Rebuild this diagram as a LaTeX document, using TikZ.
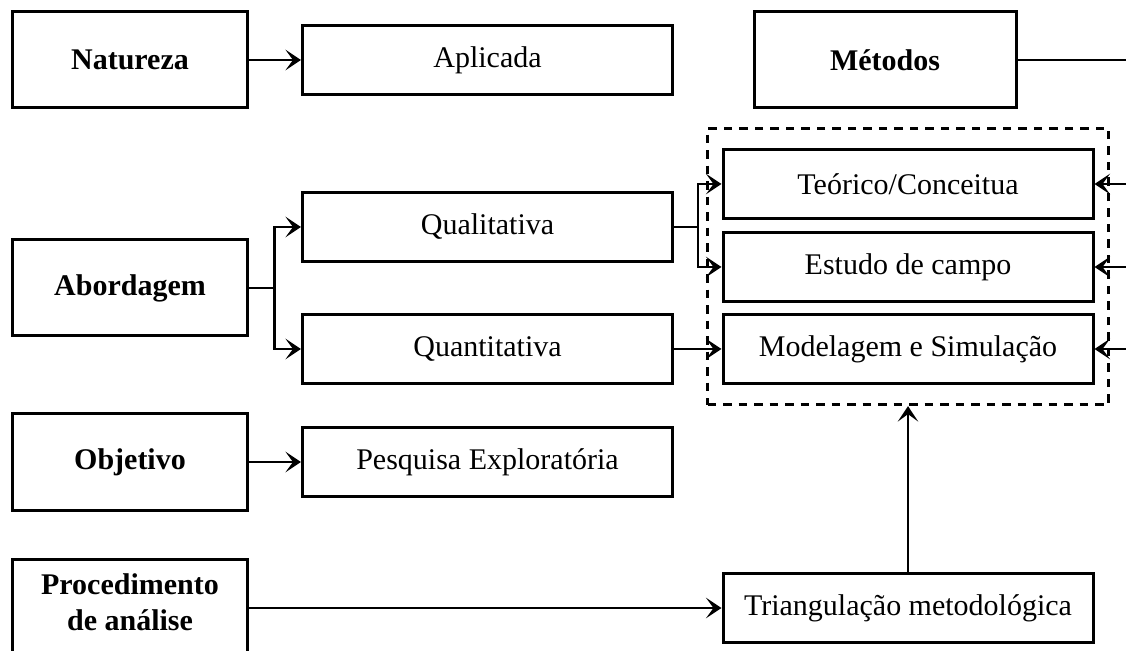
\documentclass[tikz,border=0pt]{standalone}
\usepackage{fontspec}
\setmainfont{Liberation Serif}
\usetikzlibrary{positioning,arrows.meta,fit}

\begin{document}
\begin{tikzpicture}[x=0.4pt,y=-0.4pt,font=\fontsize{12pt}{14.4pt}\selectfont,
every node/.style={draw, line width=1.2pt, align=center, inner sep=0pt},
titulo/.style={minimum width=93.6pt, minimum height=38.4pt, font=\fontsize{12pt}{14.4pt}\selectfont\bfseries},
opcao/.style={minimum width=148pt, minimum height=27.4pt},
seta/.style={line width=1.1pt, -{Stealth[length=6.2pt,width=8.2pt,inset=3pt]}},
linha/.style={line width=1.1pt}]
\clip (0,0) rectangle (1126,651);
\node[titulo] (natureza) at (130,60) {Natureza};
\node[opcao] (aplicada) at (487.5,60) {Aplicada};
\node[titulo, minimum width=104.8pt] (metodos) at (885,60) {Métodos};
\node[titulo] (abordagem) at (130,288) {Abordagem};
\node[opcao] (qualitativa) at (487.5,227) {Qualitativa};
\node[opcao] (quantitativa) at (487.5,349) {Quantitativa};
\node[titulo] (objetivo) at (130,462) {Objetivo};
\node[opcao] (pesquisa) at (487.5,462) {Pesquisa Exploratória};
\node[titulo, text depth=5pt] (procedimento) at (130,608) {Procedimento\\de análise};
\node[opcao] (teorico) at (908,184) {Teórico/Conceitua};
\node[opcao] (estudo) at (908,267) {Estudo de campo};
\node[opcao] (modelagem) at (908,349) {Modelagem e Simulação};
\node[opcao] (triangulacao) at (908,608) {Triangulação metodológica};
\node[dash pattern=on 3.4pt off 2.8pt, line width=1.1pt, fit=(teorico)(modelagem), inner xsep=5.6pt, inner ysep=8pt] (grupo) {};
% saidas pela borda direita
\coordinate (fora0) at (1140,60);
\coordinate (fora1) at (1140,184);
\coordinate (fora2) at (1140,267);
\coordinate (fora3) at (1140,349);
\draw[seta] (natureza) -- (aplicada);
\draw[seta] (objetivo) -- (pesquisa);
\draw[seta] (procedimento.east |- triangulacao) -- (triangulacao);
\draw[linha] (abordagem.east) -- ++(26,0) coordinate (nA);
\draw[seta] (nA) |- (qualitativa.west);
\draw[seta] (nA) |- (quantitativa.west);
\draw[linha] (qualitativa.east) -- ++(24,0) coordinate (nQ);
\draw[seta] (nQ) |- (teorico.west);
\draw[seta] (nQ) |- (estudo.west);
\draw[seta] (quantitativa) -- (modelagem);
\draw[seta] (triangulacao) -- (grupo);
\draw[linha] (metodos) -- (fora0);
\draw[seta] (fora1) -- (teorico);
\draw[seta] (fora2) -- (estudo);
\draw[seta] (fora3) -- (modelagem);
\end{tikzpicture}
\end{document}
